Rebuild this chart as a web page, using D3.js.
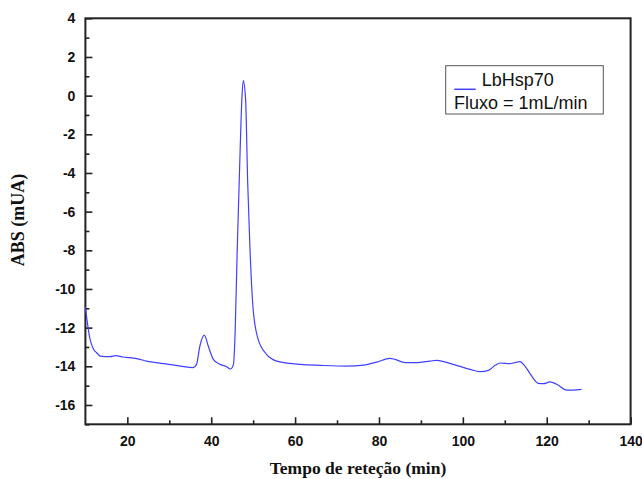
<!DOCTYPE html>
<html>
<head>
<meta charset="utf-8">
<script src="https://cdn.jsdelivr.net/npm/d3@7"></script>
<style>
  body { margin: 0; background: #fff; }
</style>
</head>
<body>
<svg id="chart"></svg>
<script>
const svgWidth = 642, svgHeight = 479;

// retention time (min) and absorbance (mUA)
const time = [10, 11.1, 11.9, 12.7, 13.5, 15.9, 17.2, 19, 20.6, 22.5, 24.6, 28.6, 32.6, 35.7, 36.5, 37.3, 38.35, 39.3, 40.5, 42.1, 43.5, 44.6, 45.3, 45.7, 46.2, 46.9, 47.3, 47.65, 48.2, 48.7, 49.25, 50.0, 51.2, 53.2, 55.6, 58.8, 61.2, 66.0, 72.3, 76.3, 79.5, 82.6, 83.8, 86.2, 89.0, 92.2, 93.8, 97.7, 101.7, 104.1, 106.1, 107.7, 108.9, 111.3, 112.4, 113.6, 114.8, 116.4, 118.0, 119.2, 120.8, 122.4, 124.8, 126.3, 128.3];
const absorb = [-10.95, -12.6, -13.1, -13.3, -13.47, -13.5, -13.45, -13.52, -13.55, -13.62, -13.73, -13.86, -13.99, -14.07, -13.9, -12.95, -12.39, -12.95, -13.64, -13.9, -14.0, -14.14, -13.9, -12.26, -7.96, -2.8, -0.22, 0.78, -0.22, -4.52, -7.96, -11.06, -12.61, -13.38, -13.73, -13.85, -13.9, -13.95, -13.99, -13.94, -13.78, -13.59, -13.64, -13.81, -13.81, -13.73, -13.69, -13.9, -14.16, -14.28, -14.21, -13.95, -13.83, -13.86, -13.81, -13.76, -13.99, -14.5, -14.88, -14.9, -14.81, -14.93, -15.23, -15.23, -15.19];

const xTicks = [20, 40, 60, 80, 100, 120, 140];
const xMinor = [30, 50, 70, 90, 110, 130];
const yTicks = [-16, -14, -12, -10, -8, -6, -4, -2, 0, 2, 4];
const yMinor = [-17, -15, -13, -11, -9, -7, -5, -3, -1, 1, 3];

const legendLabels = ['LbHsp70', 'Fluxo = 1mL/min'];

const plotLeft = 85.4, plotRight = 630.6, plotTop = 18.3, plotBottom = 424.3;

const svg = d3.select('#chart')
    .attr('width', svgWidth)
    .attr('height', svgHeight);

const x = d3.scaleLinear().domain([10, 140]).range([plotLeft, plotRight]);
const y = d3.scaleLinear().domain([-17, 4]).range([plotBottom, plotTop]);

const plain = d => String(d);   // hyphen minus, like the original

function styleTicks(g) {
    g.select('.domain').remove();
    g.selectAll('line').attr('stroke', '#222').attr('stroke-width', 1.6);
    g.selectAll('text')
        .style('font-family', '"Liberation Sans", Arial, sans-serif')
        .style('font-weight', '700')
        .style('font-size', '14px')
        .style('fill', '#111');
}

// minor ticks first
svg.append('g')
    .attr('transform', `translate(0,${plotBottom})`)
    .call(d3.axisBottom(x).tickValues(xMinor).tickSize(-4).tickFormat(''))
    .call(styleTicks);

svg.append('g')
    .attr('transform', `translate(${plotLeft},0)`)
    .call(d3.axisLeft(y).tickValues(yMinor).tickSize(-4).tickFormat(''))
    .call(styleTicks);

// major axes
svg.append('g')
    .attr('transform', `translate(0,${plotBottom})`)
    .call(d3.axisBottom(x).tickValues(xTicks).tickSize(-7).tickPadding(12).tickFormat(plain))
    .call(styleTicks);

svg.append('g')
    .attr('transform', `translate(${plotLeft},0)`)
    .call(d3.axisLeft(y).tickValues(yTicks).tickSize(-7).tickPadding(10).tickFormat(plain))
    .call(styleTicks);

// frame
svg.append('rect')
    .attr('x', plotLeft)
    .attr('y', plotTop)
    .attr('width', plotRight - plotLeft)
    .attr('height', plotBottom - plotTop)
    .attr('fill', 'none')
    .attr('stroke', '#222')
    .attr('stroke-width', 2);

// trace
const line = d3.line()
    .x((d, i) => x(time[i]))
    .y(d => y(d))
    .curve(d3.curveMonotoneX);

svg.append('path')
    .datum(absorb)
    .attr('d', line)
    .attr('fill', 'none')
    .attr('stroke', '#4040ff')
    .attr('stroke-width', 1.2);

// axis titles
svg.append('text')
    .text('Tempo de reteção (min)')
    .attr('x', (plotLeft + plotRight) / 2)
    .attr('y', 474)
    .attr('text-anchor', 'middle')
    .style('font-family', '"Liberation Serif", "Times New Roman", serif')
    .style('font-weight', '700')
    .style('font-size', '17.5px')
    .style('fill', '#111');

svg.append('text')
    .text('ABS (mUA)')
    .attr('transform', `translate(24,220) rotate(-90)`)
    .attr('text-anchor', 'middle')
    .style('font-family', '"Liberation Serif", "Times New Roman", serif')
    .style('font-weight', '700')
    .style('font-size', '18px')
    .style('fill', '#111');

// legend
const legend = svg.append('g');
legend.append('rect')
    .attr('x', 445.7)
    .attr('y', 65.7)
    .attr('width', 157.6)
    .attr('height', 48.3)
    .attr('fill', '#fff')
    .attr('stroke', '#555')
    .attr('stroke-width', 1);

legend.append('line')
    .attr('x1', 454.3)
    .attr('x2', 475.7)
    .attr('y1', 89.3)
    .attr('y2', 89.3)
    .attr('stroke', '#4040ff')
    .attr('stroke-width', 1.5);

legend.selectAll('.leg')
    .data(legendLabels)
    .enter()
    .append('text')
    .attr('class', 'leg')
    .text(d => d)
    .attr('x', (d, i) => i === 0 ? 481.7 : 454)
    .attr('y', (d, i) => i === 0 ? 86 : 109.3)
    .style('font-family', '"Liberation Sans", Arial, sans-serif')
    .style('font-size', '18px')
    .style('fill', '#111');
</script>
</body>
</html>
